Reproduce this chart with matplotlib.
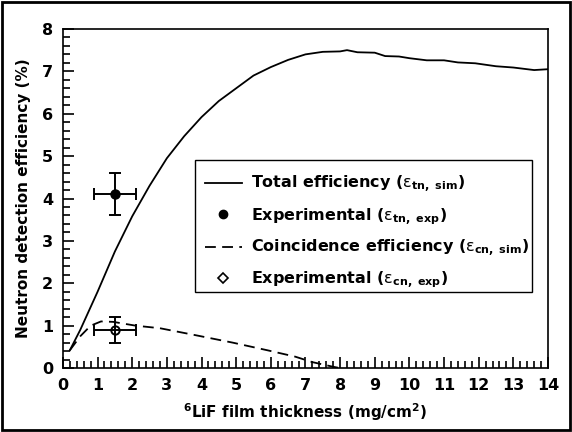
import matplotlib
matplotlib.use("Agg")
import matplotlib.pyplot as plt
from matplotlib.lines import Line2D
from matplotlib.patches import Rectangle
from matplotlib.ticker import MultipleLocator

plt.rcParams['font.family'] = ['DejaVu Sans']
plt.rcParams['mathtext.fontset'] = 'custom'
plt.rcParams['mathtext.rm'] = 'DejaVu Sans'
plt.rcParams['mathtext.bf'] = 'DejaVu Sans:bold'
plt.rcParams['mathtext.it'] = 'DejaVu Sans:italic'

# Simulated total efficiency
thk_total = [0.2, 0.5, 1.0, 1.5, 2.0, 2.5, 3.0, 3.5, 4.0, 4.5, 5.0, 5.5, 6.0, 6.5,
             7.0, 7.5, 8.0, 8.2, 8.5, 9.0, 9.3, 9.7, 10.0, 10.5, 11.0, 11.4, 11.9,
             12.5, 13.0, 13.6, 14.0]
eff_total = [0.42, 0.9, 1.8, 2.75, 3.58, 4.3, 4.95, 5.47, 5.92, 6.3, 6.6, 6.9,
             7.1, 7.27, 7.4, 7.46, 7.47, 7.5, 7.45, 7.44, 7.36, 7.35, 7.31, 7.26,
             7.26, 7.21, 7.19, 7.12, 7.09, 7.03, 7.05]

# Simulated coincidence efficiency
thk_coin = [0.2, 0.5, 0.8, 1.1, 1.45, 2.1, 2.8, 3.8, 4.9, 5.9, 6.7, 7.2, 7.8, 8.0]
eff_coin = [0.42, 0.75, 1.0, 1.1, 1.09, 1.0, 0.94, 0.78, 0.6, 0.42, 0.27, 0.14, 0.03, 0.0]

# Experimental points
exp_x = [1.5]
exp_x_err = [0.6]
exp_tn = [4.1]
exp_tn_err = [0.5]
exp_cn = [0.9]
exp_cn_err = [0.3]

fig = plt.figure(figsize=(5.72, 4.32), dpi=100)
ax = fig.add_axes([0.110, 0.148, 0.848, 0.785])

ax.plot(thk_total, eff_total, color='black', lw=1.3)
ax.plot(thk_coin, eff_coin, color='black', lw=1.3, linestyle=(0, (6, 3.5)))

ax.errorbar(exp_x, exp_tn, xerr=exp_x_err, yerr=exp_tn_err, fmt='o', color='black',
            markersize=6.5, capsize=4, elinewidth=1.4, capthick=1.4)
ax.errorbar(exp_x, exp_cn, xerr=exp_x_err, yerr=exp_cn_err, fmt='o', color='black',
            markerfacecolor='none', markersize=6, markeredgewidth=1.4,
            capsize=4, elinewidth=1.4, capthick=1.4)

ax.set_xlim(0, 14)
ax.set_ylim(0, 8)
ax.xaxis.set_major_locator(MultipleLocator(1))
ax.xaxis.set_minor_locator(MultipleLocator(0.2))
ax.yaxis.set_major_locator(MultipleLocator(1))
ax.yaxis.set_minor_locator(MultipleLocator(0.2))
ax.tick_params(which='both', direction='in', width=1.2, top=False, right=False)
ax.tick_params(which='major', length=8, pad=7, labelsize=11.5)
ax.tick_params(which='minor', length=5)
for lab in ax.get_xticklabels() + ax.get_yticklabels():
    lab.set_fontweight('bold')
for sp in ax.spines.values():
    sp.set_linewidth(1.2)

ax.set_xlabel(r'$^{\mathbf{6}}$LiF film thickness (mg/cm$^{\mathbf{2}}$)',
              fontsize=11, fontweight='bold', labelpad=6)
ax.set_ylabel('Neutron detection efficiency (%)', fontsize=11,
              fontweight='bold', labelpad=8)

handles = [
    Line2D([], [], color='black', lw=1.3),
    Line2D([], [], color='black', marker='o', linestyle='none', markersize=6),
    Line2D([], [], color='black', lw=1.3, linestyle=(0, (6, 3.5))),
    Line2D([], [], color='black', marker='D', markerfacecolor='white',
           linestyle='none', markersize=5, markeredgewidth=1.2),
]
labels = [
    r'Total efficiency ($\mathrm{\varepsilon}_{\mathbf{tn,\ sim}}$)',
    r'Experimental ($\mathrm{\varepsilon}_{\mathbf{tn,\ exp}}$)',
    r'Coincidence efficiency ($\mathrm{\varepsilon}_{\mathbf{cn,\ sim}}$)',
    r'Experimental ($\mathrm{\varepsilon}_{\mathbf{cn,\ exp}}$)',
]
# legend frame drawn as a separate rectangle (tight right padding as in the original)
ax.add_patch(Rectangle((0.272, 0.224), 0.695, 0.390, transform=ax.transAxes,
                       fill=False, edgecolor='black', lw=1.0, zorder=4))
leg = ax.legend(handles, labels, loc='center left', bbox_to_anchor=(0.293, 0.401),
                borderaxespad=0, borderpad=0, frameon=False,
                prop={'weight': 'bold', 'size': 11.5}, handlelength=2.3,
                labelspacing=0.68, handletextpad=0.55)

fig.patches.append(Rectangle((0.004, 0.004), 0.992, 0.992, transform=fig.transFigure,
                             fill=False, edgecolor='black', lw=2))

fig.savefig('out.png', dpi=100)
